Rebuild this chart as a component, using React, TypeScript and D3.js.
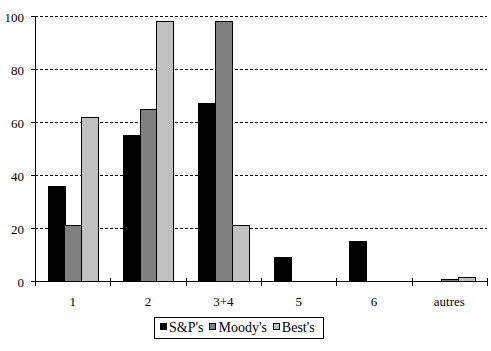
import * as d3 from 'd3'
import { useEffect, useRef } from 'react'

const categories = ['1', '2', '3+4', '5', '6', 'autres']
const seriesNames = ["S&P's", "Moody's", "Best's"]
const seriesColors = ['#000000', '#808080', '#c0c0c0']
const spValues = [36, 55, 67, 9, 15, 0]
const moodysValues = [21, 65, 98, 0, 0, 0.8]
const bestsValues = [62, 98, 21, 0, 0, 1.5]
const yTicks = [0, 20, 40, 60, 80, 100]

export default function App() {
  const ref = useRef<SVGSVGElement | null>(null)

  useEffect(() => {
    if (!ref.current) return
    const svg = d3.select(ref.current)
    svg.selectAll('*').remove()
    const W = 491, H = 351
    const m = { top: 16, right: 4, bottom: 70, left: 35 }
    const iw = W - m.left - m.right, ih = H - m.top - m.bottom
    const font = "'Liberation Serif', 'Times New Roman', Times, 'DejaVu Serif', serif"
    const g = svg.append('g').attr('transform', `translate(${m.left},${m.top})`)

    const x = d3.scaleBand().domain(categories).range([0, iw]).paddingInner(0).paddingOuter(0)
    const inner = d3.scaleBand().domain(seriesNames).range([x.bandwidth() * 0.166, x.bandwidth() * 0.834])
    const y = d3.scaleLinear().domain([0, 100]).range([ih, 0])
    const allValues = [spValues, moodysValues, bestsValues]

    // gridlines
    g.selectAll('line.grid').data(yTicks.filter(t => t > 0)).enter().append('line')
      .attr('x1', 0).attr('x2', iw)
      .attr('y1', d => Math.round(y(d)) + 0.5).attr('y2', d => Math.round(y(d)) + 0.5)
      .attr('stroke', '#000').attr('stroke-dasharray', '3,2').attr('shape-rendering', 'crispEdges')

    // bars
    seriesNames.forEach((name, si) => {
      const vals = allValues[si]
      categories.forEach((cat, ci) => {
        const v = vals[ci]
        if (v <= 0) return
        const bx = Math.round((x(cat) ?? 0) + (inner(name) ?? 0))
        const bw = Math.round(inner.bandwidth())
        const by = Math.round(y(v))
        g.append('rect')
          .attr('x', bx + 0.5).attr('y', by + 0.5)
          .attr('width', bw).attr('height', Math.max(0, Math.round(ih) - by))
          .attr('fill', seriesColors[si]).attr('stroke', '#000').attr('stroke-width', 1)
          .attr('shape-rendering', 'crispEdges')
      })
    })

    // y axis
    g.append('line').attr('x1', 0.5).attr('x2', 0.5).attr('y1', 0).attr('y2', ih)
      .attr('stroke', '#000').attr('shape-rendering', 'crispEdges')
    yTicks.forEach(t => {
      const yy = Math.round(y(t)) + 0.5
      g.append('line').attr('x1', -4).attr('x2', 0).attr('y1', yy).attr('y2', yy)
        .attr('stroke', '#000').attr('shape-rendering', 'crispEdges')
      g.append('text').attr('x', -11).attr('y', yy + 1).attr('dy', '0.35em')
        .attr('text-anchor', 'end').style('font-family', font).style('font-size', '13px')
        .text(String(t))
    })

    // x axis
    g.append('line').attr('x1', 0).attr('x2', iw).attr('y1', Math.round(ih) + 0.5).attr('y2', Math.round(ih) + 0.5)
      .attr('stroke', '#000').attr('stroke-width', 1).attr('shape-rendering', 'crispEdges')
    const tickXs = categories.map(c => x(c) ?? 0).concat([iw])
    tickXs.forEach(tx => {
      const xx = Math.round(tx) + 0.5
      g.append('line').attr('x1', xx).attr('x2', xx).attr('y1', ih - 3).attr('y2', ih + 5)
        .attr('stroke', '#000').attr('shape-rendering', 'crispEdges')
    })
    categories.forEach(c => {
      g.append('text').attr('x', (x(c) ?? 0) + x.bandwidth() / 2).attr('y', ih + 20)
        .attr('dy', '0.35em').attr('text-anchor', 'middle')
        .style('font-family', font).style('font-size', '13px').text(c)
    })

    // legend
    const lg = svg.append('g')
    const box = lg.append('rect').attr('y', 317.5).attr('height', 21)
      .attr('fill', '#fff').attr('stroke', '#000').attr('shape-rendering', 'crispEdges')
    let cx = 160
    seriesNames.forEach((name, i) => {
      lg.append('rect').attr('x', cx + 0.5).attr('y', 323.5).attr('width', 6).attr('height', 6)
        .attr('fill', seriesColors[i]).attr('stroke', '#000').attr('shape-rendering', 'crispEdges')
      const t = lg.append('text').attr('x', cx + 9).attr('y', 327).attr('dy', '0.35em')
        .style('font-family', font).style('font-size', '14px').text(name)
      const tw = (t.node() as SVGTextElement).getComputedTextLength()
      cx += 9 + tw + 6
    })
    box.attr('x', 154.5).attr('width', cx + 2 - 154)
  }, [])

  return (
    <svg ref={ref} width={491} height={351}
      style={{ position: 'absolute', left: 0, top: 0, background: '#fff' }} />
  )
}
